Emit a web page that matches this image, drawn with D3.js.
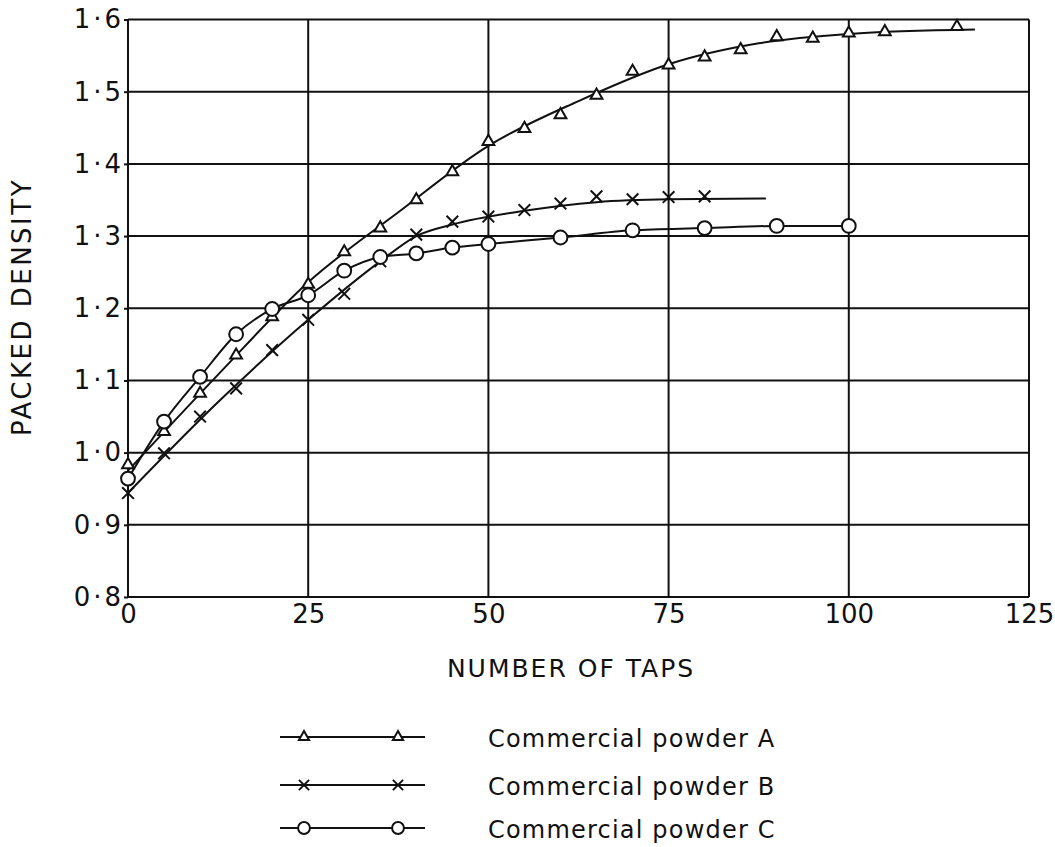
<html>
<head>
<meta charset="UTF-8">
<script src="https://d3js.org/d3.v7.min.js"></script>
<style>
body { margin: 0; background: #fff; }
text { font-family: "DejaVu Sans", sans-serif; fill: #111; }
</style>
</head>
<body>
<svg id="chart" width="1055" height="847"></svg>
<script>
// valores (marcadores)
var tapsA = [0, 5, 10, 15, 20, 25, 30, 35, 40, 45, 50, 55, 60, 65, 70, 75, 80, 85, 90, 95, 100, 105, 115]
var densityA = [0.983, 1.029, 1.082, 1.135, 1.188, 1.233, 1.278, 1.311, 1.350, 1.389, 1.431, 1.449, 1.468, 1.495, 1.528, 1.537, 1.548, 1.558, 1.576, 1.574, 1.581, 1.583, 1.590]
var tapsB = [0, 5, 10, 15, 20, 25, 30, 35, 40, 45, 50, 55, 60, 65, 70, 75, 80]
var densityB = [0.944, 0.999, 1.050, 1.089, 1.142, 1.184, 1.220, 1.265, 1.302, 1.320, 1.327, 1.336, 1.345, 1.355, 1.351, 1.354, 1.355]
var tapsC = [0, 5, 10, 15, 20, 25, 30, 35, 40, 45, 50, 60, 70, 80, 90, 100]
var densityC = [0.964, 1.043, 1.105, 1.164, 1.199, 1.218, 1.252, 1.271, 1.276, 1.284, 1.289, 1.298, 1.308, 1.311, 1.314, 1.314]

var fitTapsA = [0, 12.5, 25, 37.5, 50, 62.5, 75, 87.5, 100, 117.5]
var fitDensityA = [0.975, 1.108, 1.236, 1.333, 1.425, 1.487, 1.538, 1.567, 1.580, 1.586]
var fitTapsB = [0, 12.5, 25, 35, 40, 45, 55, 65, 75, 88.5]
var fitDensityB = [0.944, 1.070, 1.184, 1.265, 1.300, 1.316, 1.335, 1.347, 1.351, 1.352]

var xTicks = [0, 25, 50, 75, 100, 125]
var yTicks = [0.8, 0.9, 1.0, 1.1, 1.2, 1.3, 1.4, 1.5, 1.6]
var yTickLabels = ["0·8", "0·9", "1·0", "1·1", "1·2", "1·3", "1·4", "1·5", "1·6"]
var legendNames = ["Commercial powder A", "Commercial powder B", "Commercial powder C"]

var svg = d3.select("#chart")

var x = d3.scaleLinear().domain([0, 125]).range([128, 1029])
var y = d3.scaleLinear().domain([0.8, 1.6]).range([597, 19.5])

// rejilla
svg.append("g").selectAll("line")
	.data(yTicks)
	.enter().append("line")
	.attr("x1", x(0)).attr("x2", x(125))
	.attr("y1", d => y(d)).attr("y2", d => y(d))
	.attr("stroke", "#111").attr("stroke-width", 2)

svg.append("g").selectAll("line")
	.data(xTicks)
	.enter().append("line")
	.attr("x1", d => x(d)).attr("x2", d => x(d))
	.attr("y1", y(0.8)).attr("y2", y(1.6))
	.attr("stroke", "#111").attr("stroke-width", 2)

// ejes con etiquetas
var yAxis = svg.append("g")
	.attr("transform", `translate(${x(0)},0)`)
	.call(d3.axisLeft(y).tickValues(yTicks).tickSize(4).tickPadding(0)
		.tickFormat((d, i) => yTickLabels[i]))
yAxis.select(".domain").remove()
yAxis.selectAll("line").attr("stroke", "#111").attr("stroke-width", 2)
yAxis.selectAll("text").style("font-size", "26px").style("letter-spacing", "3px").attr("fill", "#111")

var xAxis = svg.append("g")
	.attr("transform", `translate(0,${y(0.8)})`)
	.call(d3.axisBottom(x).tickValues(xTicks).tickSize(0).tickPadding(8))
xAxis.select(".domain").remove()
xAxis.selectAll("text").style("font-size", "26px").attr("fill", "#111")

svg.append("text")
	.attr("transform", "translate(31,307) rotate(-90)")
	.attr("text-anchor", "middle")
	.style("font-size", "26px")
	.style("letter-spacing", "2.5px")
	.text("PACKED DENSITY")

svg.append("text")
	.attr("x", 571).attr("y", 677)
	.attr("text-anchor", "middle")
	.style("font-size", "25px")
	.style("letter-spacing", "2px")
	.text("NUMBER OF TAPS")

// curvas
var line = d3.line()
	.x(d => x(d[0]))
	.y(d => y(d[1]))
	.curve(d3.curveMonotoneX)

var ptsA = tapsA.map((t, i) => [t, densityA[i]])
var ptsB = tapsB.map((t, i) => [t, densityB[i]])
var ptsC = tapsC.map((t, i) => [t, densityC[i]])

var series = [
	{pts: ptsA, line: fitTapsA.map((t, i) => [t, fitDensityA[i]]), sym: d3.symbolTriangle, size: 60},
	{pts: ptsB, line: fitTapsB.map((t, i) => [t, fitDensityB[i]]), sym: d3.symbolTimes, size: 90},
	{pts: ptsC, line: ptsC, sym: d3.symbolCircle, size: 150}
]

series.forEach(function(s) {
	svg.append("path")
		.datum(s.line)
		.attr("d", line)
		.attr("fill", "none")
		.attr("stroke", "#111")
		.attr("stroke-width", 2)
})

series.forEach(function(s) {
	svg.append("g").selectAll("path")
		.data(s.pts)
		.enter().append("path")
		.attr("transform", d => `translate(${x(d[0])},${y(d[1])})`)
		.attr("d", d3.symbol().type(s.sym).size(s.size))
		.attr("fill", s.sym == d3.symbolTimes ? "none" : "#fff")
		.attr("stroke", "#111")
		.attr("stroke-width", 2)
})

// leyenda
var legendY = [737, 785, 828]
var legendSize = [45, 70, 110]
var legend = svg.append("g").selectAll("g")
	.data(series)
	.enter().append("g")
	.attr("transform", (d, i) => `translate(0,${legendY[i]})`)

legend.append("line")
	.attr("x1", 280).attr("x2", 425)
	.attr("stroke", "#111").attr("stroke-width", 2)

legend.selectAll("path")
	.data((d, i) => [304, 398].map(px => ({px: px, sym: d.sym, size: legendSize[i]})))
	.enter().append("path")
	.attr("transform", d => `translate(${d.px},0)`)
	.attr("d", d => d3.symbol().type(d.sym).size(d.size)())
	.attr("fill", d => d.sym == d3.symbolTimes ? "none" : "#fff")
	.attr("stroke", "#111")
	.attr("stroke-width", 2)

legend.append("text")
	.attr("x", 488).attr("y", 10)
	.style("font-size", "24px")
	.style("letter-spacing", "1.2px")
	.text((d, i) => legendNames[i])

</script>
</body>
</html>
